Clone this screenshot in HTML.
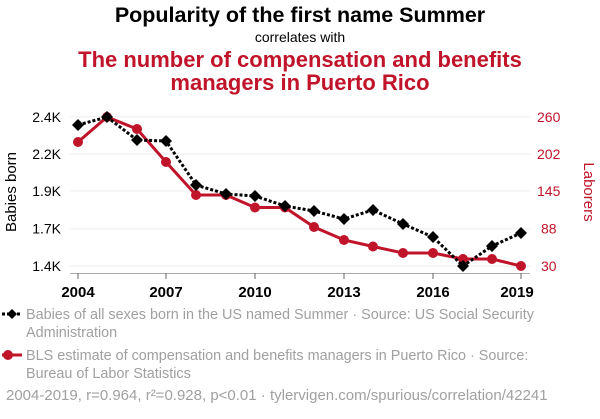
<!DOCTYPE html>
<html><head><meta charset="utf-8"><style>
body{margin:0;background:#fff;width:600px;height:414px;overflow:hidden;font-family:"Liberation Sans",Arial,sans-serif}
</style></head><body>
<svg width="600" height="414" xmlns="http://www.w3.org/2000/svg" font-family="Liberation Sans, Arial, sans-serif">
<text x="300" y="22" text-anchor="middle" font-size="21.5" font-weight="bold" fill="#000">Popularity of the first name Summer</text>
<text x="300" y="42" text-anchor="middle" font-size="14" fill="#000">correlates with</text>
<text x="300" y="67" text-anchor="middle" font-size="22" font-weight="bold" fill="#c0142b">The number of compensation and benefits</text>
<text x="300" y="90" text-anchor="middle" font-size="22" font-weight="bold" fill="#c0142b">managers in Puerto Rico</text>
<g stroke="#eee" stroke-width="1">
<line x1="70" x2="530" y1="116.7" y2="116.7"/><line x1="70" x2="530" y1="154" y2="154"/><line x1="70" x2="530" y1="191" y2="191"/><line x1="70" x2="530" y1="228.7" y2="228.7"/><line x1="70" x2="530" y1="266" y2="266"/>
</g>
<line x1="70" x2="530" y1="273.5" y2="273.5" stroke="#aaa"/>
<g stroke="#666"><line x1="78" x2="78" y1="273" y2="279"/><line x1="166" x2="166" y1="273" y2="279"/><line x1="255" x2="255" y1="273" y2="279"/><line x1="344" x2="344" y1="273" y2="279"/><line x1="433" x2="433" y1="273" y2="279"/><line x1="521" x2="521" y1="273" y2="279"/></g>
<g font-size="14" fill="#000" text-anchor="end">
<text x="61" y="122">2.4K</text><text x="61" y="159">2.2K</text><text x="61" y="196">1.9K</text><text x="61" y="233.5">1.7K</text><text x="61" y="271">1.4K</text>
</g>
<g font-size="14" fill="#c0142b" text-anchor="start">
<text x="537" y="122">260</text><text x="537" y="159">202</text><text x="537" y="196">145</text><text x="541" y="233.5">88</text><text x="541" y="271">30</text>
</g>
<g font-size="15" font-weight="bold" fill="#000" text-anchor="middle">
<text x="78" y="297">2004</text><text x="166" y="297">2007</text><text x="255" y="297">2010</text><text x="344" y="297">2013</text><text x="433" y="297">2016</text><text x="517" y="297">2019</text>
</g>
<text transform="translate(16,192) rotate(-90)" text-anchor="middle" font-size="15" fill="#000">Babies born</text>
<text transform="translate(584,192) rotate(90)" text-anchor="middle" font-size="15" fill="#c0142b">Laborers</text>
<polyline fill="none" stroke="#c0142b" stroke-width="3" points="78,142 107,117 137,129 166,162 196,195 226,195 255,207.5 285,207.5 314,227 344,240 373,246.5 403,253 433,253 463,259 492,259 521,266"/>
<g fill="#c0142b">
<circle cx="78" cy="142" r="5"/><circle cx="107" cy="117" r="5"/><circle cx="137" cy="129" r="5"/><circle cx="166" cy="162" r="5"/><circle cx="196" cy="195" r="5"/><circle cx="226" cy="195" r="5"/><circle cx="255" cy="207.5" r="5"/><circle cx="285" cy="207.5" r="5"/><circle cx="314" cy="227" r="5"/><circle cx="344" cy="240" r="5"/><circle cx="373" cy="246.5" r="5"/><circle cx="403" cy="253" r="5"/><circle cx="433" cy="253" r="5"/><circle cx="463" cy="259" r="5"/><circle cx="492" cy="259" r="5"/><circle cx="521" cy="266" r="5"/>
</g>
<polyline fill="none" stroke="#000" stroke-width="3" stroke-dasharray="3,2" points="78,125 107,117 137,140 166,141 196,185 226,194 255,196 285,206 314,211 344,219 373,210 403,224 433,237 463,266 492,246 521,233"/>
<g fill="#000">
<path d="M78 119l6 6-6 6-6-6z"/><path d="M107 111l6 6-6 6-6-6z"/><path d="M137 134l6 6-6 6-6-6z"/><path d="M166 135l6 6-6 6-6-6z"/><path d="M196 179l6 6-6 6-6-6z"/><path d="M226 188l6 6-6 6-6-6z"/><path d="M255 190l6 6-6 6-6-6z"/><path d="M285 200l6 6-6 6-6-6z"/><path d="M314 205l6 6-6 6-6-6z"/><path d="M344 213l6 6-6 6-6-6z"/><path d="M373 204l6 6-6 6-6-6z"/><path d="M403 218l6 6-6 6-6-6z"/><path d="M433 231l6 6-6 6-6-6z"/><path d="M463 260l6 6-6 6-6-6z"/><path d="M492 240l6 6-6 6-6-6z"/><path d="M521 227l6 6-6 6-6-6z"/>
</g>
<line x1="2" x2="22" y1="314" y2="314" stroke="#000" stroke-width="3" stroke-dasharray="3,2"/>
<path d="M12 309l5 5-5 5-5-5z" fill="#000"/>
<g font-size="14.4" fill="#a0a0a0">
<text x="26" y="319">Babies of all sexes born in the US named Summer · Source: US Social Security</text>
<text x="26" y="337">Administration</text>
</g>
<line x1="2" x2="22" y1="355" y2="355" stroke="#c0142b" stroke-width="3"/>
<circle cx="8" cy="355" r="5" fill="#c0142b"/>
<g font-size="14.4" fill="#a0a0a0">
<text x="26" y="360">BLS estimate of compensation and benefits managers in Puerto Rico · Source:</text>
<text x="26" y="378">Bureau of Labor Statistics</text>
<text x="6" y="400" font-size="15">2004-2019, r=0.964, r²=0.928, p&lt;0.01 · tylervigen.com/spurious/correlation/42241</text>
</g>
</svg>
</body></html>
